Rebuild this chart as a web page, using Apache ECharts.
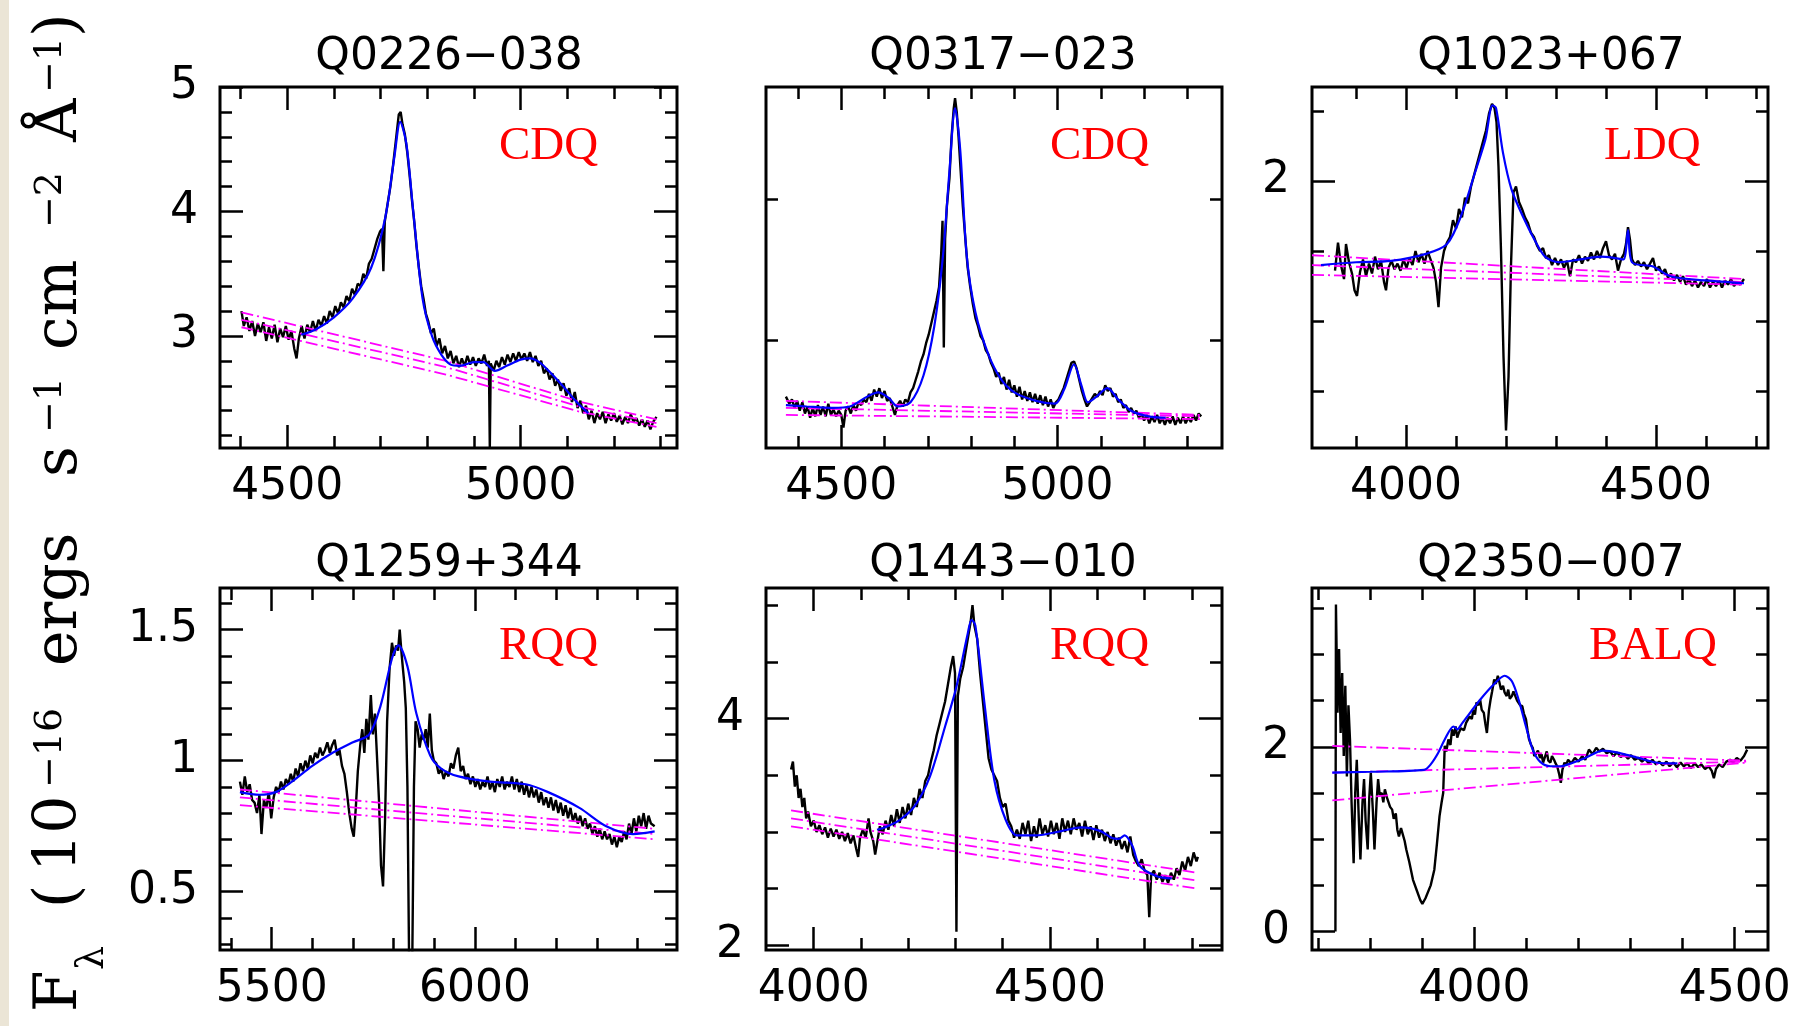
<!DOCTYPE html>
<html>
<head>
<meta charset="utf-8">
<script src="https://cdn.jsdelivr.net/npm/echarts@6/dist/echarts.min.js"></script>
<style>
html,body{margin:0;padding:0;background:#fff;}
#c{width:1803px;height:1026px;}
</style>
</head>
<body>
<div id="c"></div>
<script>
// ---------------- DATA ----------------
const TITLES = ['Q0226\u2212038','Q0317\u2212023','Q1023+067','Q1259+344','Q1443\u2212010','Q2350\u2212007'];
const CLASSES = ['CDQ','CDQ','LDQ','RQQ','RQQ','BALQ'];

const X_MIN = [4356, 4326, 3812, 5373, 3899, 3688];
const X_MAX = [5335, 5380, 4724, 6497, 4864, 4564];
const Y_MIN = [2.1, 0.235, 0.095, 0.2775, 1.96, -0.2];
const Y_MAX = [5.0, 2.8, 2.67, 1.659, 5.15, 3.72];

const X_MAJOR = [[4500,5000],[4500,5000],[4000,4500],[5500,6000],[4000,4500],[4000,4500]];
const X_MINOR = [
  [4400,4600,4700,4800,4900,5100,5200,5300],
  [4400,4600,4700,4800,4900,5100,5200,5300],
  [3900,4100,4200,4300,4400,4600,4700],
  [5400,5600,5700,5800,5900,6100,6200,6300,6400],
  [4100,4200,4300,4400,4600,4700,4800],
  [3700,3800,3900,4100,4200,4300,4400]
];
const Y_MAJOR = [[3,4,5],[],[2],[0.5,1,1.5],[2,4],[0,2]];
const Y_MINOR = [
  [2.2,2.4,2.6,2.8,3.2,3.4,3.6,3.8,4.2,4.4,4.6,4.8],
  [1,2],
  [0.5,1,1.5,2.5],
  [0.3,0.4,0.6,0.7,0.8,0.9,1.1,1.2,1.3,1.4,1.6],
  [2.5,3,3.5,4.5,5],
  [0.5,1,1.5,2.5,3,3.5]
];
const Y_LABELS = [[3,4,5],[],[2],[0.5,1,1.5],[2,4],[0,2]];

// Q0226-038
const q0226_spec = [[4402,3.20],[4407,3.08],[4413,3.15],[4419,3.04],[4425,3.12],[4431,3.00],[4437,3.10],[4443,3.03],[4449,3.11],[4455,2.96],[4461,3.07],[4467,2.98],[4473,3.09],[4479,2.95],[4485,3.06],[4491,2.99],[4497,3.08],[4503,2.97],[4509,3.04],[4515,2.90],[4520,2.82],[4525,2.98],[4531,3.08],[4537,2.98],[4543,3.09],[4549,3.03],[4555,3.12],[4561,3.04],[4567,3.13],[4573,3.08],[4579,3.16],[4585,3.10],[4591,3.20],[4597,3.15],[4603,3.24],[4609,3.18],[4615,3.27],[4621,3.23],[4627,3.32],[4633,3.28],[4639,3.38],[4645,3.33],[4651,3.42],[4657,3.40],[4663,3.50],[4669,3.46],[4675,3.58],[4681,3.62],[4687,3.70],[4693,3.78],[4699,3.84],[4703,3.86],[4706,3.52],[4709,3.92],[4715,4.06],[4721,4.20],[4727,4.38],[4733,4.58],[4739,4.78],[4743,4.80],[4747,4.70],[4752,4.62],[4757,4.48],[4762,4.30],[4767,4.10],[4772,3.92],[4777,3.72],[4782,3.55],[4787,3.40],[4792,3.30],[4797,3.18],[4802,3.12],[4808,3.02],[4814,3.06],[4820,2.92],[4826,2.98],[4832,2.86],[4838,2.92],[4844,2.82],[4850,2.88],[4856,2.78],[4862,2.84],[4868,2.75],[4874,2.82],[4880,2.76],[4886,2.84],[4892,2.77],[4898,2.83],[4904,2.76],[4910,2.82],[4916,2.78],[4922,2.85],[4928,2.76],[4932,2.80],[4934,2.10],[4936,2.78],[4942,2.72],[4948,2.80],[4954,2.75],[4960,2.83],[4966,2.77],[4972,2.85],[4978,2.79],[4984,2.86],[4990,2.80],[4996,2.87],[5002,2.81],[5008,2.86],[5014,2.80],[5020,2.87],[5026,2.79],[5032,2.84],[5038,2.76],[5044,2.80],[5050,2.70],[5056,2.74],[5062,2.65],[5068,2.70],[5074,2.60],[5080,2.65],[5086,2.56],[5092,2.62],[5098,2.52],[5104,2.58],[5110,2.47],[5116,2.55],[5122,2.42],[5128,2.48],[5134,2.38],[5140,2.44],[5146,2.33],[5152,2.40],[5158,2.30],[5164,2.38],[5170,2.33],[5176,2.39],[5182,2.30],[5188,2.37],[5194,2.32],[5200,2.38],[5206,2.31],[5212,2.36],[5218,2.29],[5224,2.35],[5230,2.30],[5236,2.37],[5242,2.31],[5248,2.34],[5254,2.28],[5260,2.33],[5266,2.27],[5272,2.32],[5278,2.25],[5284,2.31],[5291,2.35]];
const q0226_fit = [[4530,3.01],[4560,3.05],[4600,3.15],[4640,3.30],[4680,3.55],[4710,3.95],[4730,4.45],[4742,4.72],[4755,4.55],[4770,4.00],[4790,3.30],[4810,3.00],[4830,2.85],[4850,2.77],[4870,2.76],[4900,2.79],[4920,2.79],[4945,2.72],[4970,2.76],[5000,2.81],[5020,2.82],[5040,2.79],[5060,2.72],[5090,2.60],[5120,2.47],[5145,2.38]];
const q0226_c1 = [[4402,3.19],[4840,2.80],[5128,2.47],[5291,2.33]];
const q0226_c2 = [[4402,3.13],[4840,2.75],[5128,2.43],[5291,2.30]];
const q0226_c3 = [[4402,3.07],[4840,2.69],[5128,2.39],[5291,2.27]];

// Q0317-023
const q0317_spec = [[4372,0.60],[4380,0.55],[4386,0.58],[4392,0.52],[4398,0.57],[4404,0.50],[4410,0.56],[4416,0.48],[4422,0.53],[4428,0.45],[4434,0.52],[4440,0.46],[4446,0.54],[4452,0.47],[4458,0.53],[4464,0.46],[4470,0.55],[4476,0.47],[4482,0.51],[4488,0.46],[4494,0.50],[4500,0.47],[4505,0.38],[4510,0.50],[4516,0.53],[4522,0.48],[4528,0.54],[4534,0.50],[4540,0.56],[4546,0.54],[4552,0.58],[4558,0.56],[4564,0.62],[4570,0.57],[4576,0.65],[4582,0.60],[4588,0.66],[4594,0.59],[4600,0.64],[4606,0.57],[4612,0.59],[4618,0.53],[4624,0.47],[4630,0.54],[4636,0.57],[4642,0.53],[4648,0.58],[4654,0.56],[4660,0.63],[4666,0.66],[4672,0.72],[4678,0.78],[4684,0.85],[4690,0.90],[4696,0.98],[4702,1.04],[4708,1.12],[4714,1.20],[4720,1.28],[4726,1.38],[4731,1.62],[4734,1.85],[4737,0.95],[4740,1.72],[4744,1.95],[4750,2.15],[4755,2.45],[4760,2.65],[4763,2.72],[4767,2.62],[4771,2.45],[4776,2.20],[4781,1.95],[4786,1.75],[4792,1.52],[4798,1.38],[4804,1.26],[4810,1.16],[4816,1.10],[4822,1.03],[4828,1.00],[4834,0.93],[4840,0.90],[4846,0.84],[4852,0.80],[4858,0.74],[4864,0.77],[4870,0.69],[4876,0.74],[4882,0.65],[4888,0.72],[4894,0.63],[4900,0.68],[4906,0.60],[4912,0.67],[4918,0.58],[4924,0.64],[4930,0.57],[4936,0.63],[4942,0.56],[4948,0.62],[4954,0.55],[4960,0.61],[4966,0.54],[4972,0.60],[4978,0.53],[4984,0.58],[4990,0.52],[4996,0.56],[5002,0.58],[5008,0.62],[5014,0.66],[5020,0.72],[5026,0.78],[5032,0.84],[5038,0.85],[5044,0.80],[5050,0.72],[5056,0.64],[5062,0.58],[5068,0.53],[5074,0.56],[5080,0.59],[5086,0.62],[5092,0.60],[5098,0.64],[5104,0.61],[5110,0.68],[5116,0.64],[5122,0.66],[5128,0.60],[5134,0.62],[5140,0.56],[5146,0.58],[5152,0.52],[5158,0.54],[5164,0.49],[5170,0.52],[5176,0.48],[5182,0.50],[5188,0.45],[5194,0.48],[5200,0.43],[5206,0.47],[5212,0.41],[5218,0.46],[5224,0.42],[5230,0.47],[5236,0.41],[5242,0.45],[5248,0.40],[5254,0.45],[5260,0.41],[5266,0.46],[5272,0.40],[5278,0.45],[5284,0.41],[5290,0.46],[5296,0.41],[5302,0.45],[5308,0.42],[5314,0.47],[5320,0.43],[5326,0.48],[5332,0.46]];
const q0317_fit = [[4372,0.54],[4420,0.53],[4480,0.52],[4520,0.53],[4560,0.60],[4585,0.63],[4610,0.59],[4630,0.53],[4660,0.56],[4690,0.75],[4715,1.10],[4735,1.60],[4750,2.20],[4763,2.65],[4775,2.35],[4790,1.60],[4810,1.20],[4840,0.90],[4870,0.72],[4900,0.63],[4950,0.57],[4994,0.55],[5015,0.65],[5038,0.83],[5055,0.68],[5070,0.56],[5090,0.60],[5115,0.66],[5140,0.58],[5170,0.50],[5210,0.46],[5250,0.45]];
const q0317_c1 = [[4372,0.57],[5332,0.47]];
const q0317_c2 = [[4372,0.52],[5332,0.46]];
const q0317_c3 = [[4372,0.47],[5332,0.44]];

// Q1023+067
const q1023_spec = [[3858,1.36],[3864,1.56],[3870,1.40],[3876,1.30],[3880,1.55],[3886,1.42],[3892,1.34],[3897,1.22],[3902,1.18],[3908,1.35],[3914,1.44],[3920,1.32],[3926,1.41],[3932,1.34],[3938,1.46],[3944,1.37],[3950,1.43],[3956,1.28],[3960,1.22],[3965,1.38],[3971,1.43],[3977,1.37],[3983,1.41],[3989,1.36],[3995,1.44],[4001,1.38],[4007,1.45],[4013,1.40],[4019,1.50],[4025,1.42],[4031,1.48],[4037,1.41],[4043,1.50],[4049,1.44],[4055,1.38],[4060,1.28],[4065,1.10],[4070,1.38],[4076,1.50],[4082,1.56],[4088,1.60],[4094,1.72],[4100,1.66],[4106,1.80],[4112,1.74],[4118,1.88],[4124,1.84],[4130,1.96],[4136,2.04],[4142,2.12],[4148,2.20],[4154,2.28],[4160,2.36],[4166,2.48],[4172,2.55],[4177,2.52],[4181,2.42],[4185,2.10],[4190,1.50],[4195,0.75],[4200,0.22],[4205,0.60],[4210,1.40],[4215,1.92],[4220,1.96],[4226,1.85],[4232,1.80],[4238,1.74],[4244,1.70],[4250,1.63],[4256,1.60],[4262,1.54],[4268,1.50],[4274,1.52],[4280,1.45],[4286,1.47],[4292,1.40],[4298,1.45],[4304,1.40],[4310,1.44],[4316,1.38],[4322,1.43],[4328,1.32],[4334,1.44],[4340,1.42],[4346,1.47],[4352,1.41],[4358,1.46],[4364,1.43],[4370,1.49],[4376,1.44],[4382,1.50],[4388,1.45],[4394,1.52],[4400,1.57],[4406,1.47],[4412,1.44],[4418,1.48],[4424,1.36],[4430,1.44],[4436,1.48],[4440,1.55],[4444,1.67],[4448,1.58],[4452,1.44],[4458,1.40],[4464,1.43],[4470,1.39],[4476,1.42],[4482,1.37],[4488,1.41],[4494,1.45],[4500,1.36],[4506,1.39],[4512,1.34],[4518,1.37],[4524,1.31],[4530,1.34],[4536,1.29],[4542,1.33],[4548,1.28],[4554,1.32],[4560,1.26],[4566,1.30],[4572,1.25],[4578,1.29],[4584,1.24],[4590,1.28],[4596,1.25],[4602,1.30],[4608,1.24],[4614,1.28],[4620,1.25],[4626,1.29],[4632,1.24],[4638,1.29],[4644,1.26],[4650,1.30],[4656,1.25],[4662,1.28],[4668,1.26],[4676,1.30]];
const q1023_fit = [[3830,1.40],[3900,1.42],[3970,1.43],[4040,1.48],[4082,1.55],[4110,1.75],[4138,2.06],[4159,2.30],[4173,2.54],[4180,2.52],[4194,2.20],[4211,1.94],[4236,1.73],[4257,1.58],[4278,1.46],[4306,1.42],[4348,1.44],[4390,1.46],[4418,1.45],[4435,1.44],[4444,1.65],[4452,1.42],[4494,1.39],[4529,1.32],[4599,1.29],[4676,1.27]];
const q1023_c1 = [[3812,1.47],[4676,1.30]];
const q1023_c2 = [[3812,1.40],[4676,1.28]];
const q1023_c3 = [[3812,1.33],[4676,1.26]];

// Q1259+344
const q1259_spec = [[5422,0.92],[5428,0.87],[5434,0.94],[5440,0.88],[5446,0.91],[5452,0.85],[5458,0.84],[5464,0.80],[5470,0.87],[5475,0.72],[5481,0.85],[5487,0.82],[5493,0.88],[5499,0.78],[5505,0.86],[5511,0.90],[5517,0.88],[5523,0.92],[5529,0.89],[5535,0.93],[5541,0.91],[5547,0.95],[5553,0.92],[5559,0.97],[5565,0.94],[5571,0.99],[5577,0.96],[5583,1.00],[5589,0.97],[5595,1.02],[5601,0.99],[5607,1.03],[5613,1.01],[5619,1.05],[5625,1.02],[5631,1.04],[5637,1.07],[5643,1.03],[5649,1.06],[5655,1.08],[5661,1.02],[5667,1.04],[5673,0.98],[5679,0.95],[5685,0.88],[5691,0.80],[5697,0.74],[5702,0.71],[5707,0.82],[5712,0.96],[5718,1.06],[5723,1.12],[5728,1.03],[5733,1.16],[5738,1.08],[5744,1.25],[5749,1.10],[5754,1.18],[5759,1.02],[5764,0.85],[5769,0.60],[5774,0.52],[5779,0.78],[5784,1.15],[5790,1.35],[5796,1.45],[5801,1.40],[5806,1.44],[5811,1.42],[5815,1.50],[5820,1.40],[5826,1.30],[5830,1.20],[5834,0.90],[5838,0.25],[5842,0.10],[5846,0.25],[5850,0.90],[5854,1.15],[5859,1.12],[5864,1.05],[5869,1.10],[5874,1.08],[5879,1.12],[5884,1.05],[5889,1.18],[5894,1.04],[5899,1.00],[5905,0.99],[5911,0.95],[5917,0.97],[5923,0.93],[5929,0.96],[5935,0.94],[5941,0.99],[5947,0.97],[5953,1.02],[5959,1.05],[5965,0.96],[5971,0.98],[5977,0.93],[5983,0.95],[5989,0.91],[5995,0.94],[6001,0.90],[6007,0.93],[6013,0.89],[6019,0.92],[6025,0.90],[6031,0.94],[6037,0.89],[6043,0.92],[6049,0.88],[6055,0.93],[6061,0.90],[6067,0.94],[6073,0.89],[6079,0.92],[6085,0.90],[6091,0.94],[6097,0.89],[6103,0.93],[6109,0.88],[6115,0.92],[6121,0.87],[6127,0.91],[6133,0.86],[6139,0.90],[6145,0.86],[6151,0.89],[6157,0.84],[6163,0.88],[6169,0.83],[6175,0.86],[6181,0.82],[6187,0.86],[6193,0.81],[6199,0.85],[6205,0.80],[6211,0.84],[6217,0.79],[6223,0.83],[6229,0.78],[6235,0.82],[6241,0.77],[6247,0.80],[6253,0.76],[6259,0.79],[6265,0.75],[6271,0.78],[6277,0.74],[6283,0.76],[6289,0.72],[6295,0.75],[6301,0.71],[6307,0.74],[6313,0.70],[6319,0.73],[6325,0.70],[6331,0.72],[6337,0.68],[6343,0.71],[6349,0.67],[6355,0.71],[6361,0.69],[6367,0.73],[6373,0.70],[6379,0.76],[6385,0.72],[6391,0.78],[6397,0.73],[6403,0.79],[6409,0.75],[6415,0.80],[6421,0.74],[6427,0.79],[6433,0.76],[6442,0.75]];
const q1259_fit = [[5422,0.88],[5470,0.87],[5510,0.88],[5550,0.92],[5600,0.98],[5650,1.03],[5700,1.07],[5740,1.10],[5768,1.21],[5796,1.39],[5812,1.44],[5834,1.36],[5856,1.18],[5890,1.02],[5917,0.97],[5960,0.94],[6037,0.92],[6125,0.91],[6180,0.88],[6257,0.82],[6323,0.75],[6389,0.72],[6442,0.73]];
const q1259_c1 = [[5422,0.89],[6442,0.74]];
const q1259_c2 = [[5422,0.86],[6442,0.72]];
const q1259_c3 = [[5422,0.83],[6442,0.70]];

// Q1443-010
const q1443_spec = [[3952,3.55],[3956,3.62],[3960,3.40],[3964,3.50],[3968,3.30],[3972,3.38],[3976,3.22],[3980,3.30],[3984,3.12],[3988,3.18],[3994,3.05],[4000,3.10],[4006,3.00],[4012,3.06],[4018,2.98],[4024,3.04],[4030,2.95],[4036,3.03],[4042,2.96],[4048,3.02],[4054,2.94],[4060,3.00],[4066,2.92],[4072,2.99],[4078,2.90],[4084,2.97],[4090,2.85],[4094,2.78],[4098,2.95],[4104,3.02],[4110,2.95],[4116,3.12],[4120,3.00],[4126,2.92],[4130,2.80],[4134,2.90],[4140,3.05],[4146,2.98],[4152,3.10],[4158,3.02],[4164,3.15],[4170,3.05],[4176,3.20],[4182,3.08],[4188,3.22],[4194,3.12],[4200,3.25],[4206,3.15],[4212,3.30],[4218,3.22],[4224,3.38],[4230,3.30],[4236,3.45],[4242,3.50],[4248,3.62],[4254,3.72],[4260,3.85],[4266,3.95],[4272,4.05],[4278,4.15],[4284,4.30],[4290,4.45],[4295,4.55],[4299,4.40],[4302,2.12],[4305,4.20],[4310,4.35],[4316,4.45],[4322,4.60],[4328,4.75],[4332,4.85],[4336,5.00],[4340,4.82],[4346,4.70],[4352,4.40],[4358,4.15],[4364,3.90],[4370,3.65],[4376,3.55],[4382,3.50],[4388,3.45],[4394,3.30],[4400,3.22],[4406,3.25],[4412,3.10],[4418,3.05],[4424,2.95],[4430,3.02],[4436,2.94],[4442,3.08],[4448,2.98],[4454,3.10],[4460,2.92],[4466,3.05],[4472,2.95],[4478,3.12],[4484,2.98],[4490,3.06],[4496,2.96],[4502,3.10],[4508,2.98],[4514,3.08],[4520,2.94],[4526,3.12],[4532,3.00],[4538,3.10],[4544,2.98],[4550,3.12],[4556,3.02],[4562,3.08],[4568,2.96],[4574,3.10],[4580,2.98],[4586,3.05],[4592,2.93],[4598,3.06],[4604,2.95],[4610,3.02],[4616,2.92],[4622,3.00],[4628,2.90],[4634,2.98],[4640,2.88],[4646,2.95],[4652,2.85],[4658,2.92],[4664,2.82],[4670,2.96],[4676,2.80],[4682,2.74],[4688,2.70],[4694,2.76],[4700,2.66],[4706,2.62],[4710,2.25],[4714,2.62],[4720,2.66],[4726,2.58],[4732,2.64],[4738,2.56],[4744,2.62],[4750,2.55],[4756,2.64],[4762,2.58],[4768,2.68],[4774,2.62],[4780,2.74],[4786,2.66],[4792,2.78],[4798,2.70],[4804,2.82],[4810,2.74],[4813,2.78]];
const q1443_fit = [[4134,3.02],[4150,3.04],[4180,3.10],[4214,3.23],[4246,3.49],[4278,3.93],[4302,4.28],[4326,4.75],[4334,4.87],[4342,4.82],[4362,4.11],[4382,3.46],[4406,3.11],[4430,2.97],[4470,2.97],[4526,3.01],[4566,3.04],[4606,3.01],[4630,2.95],[4646,2.94],[4658,2.97],[4674,2.88],[4690,2.70],[4726,2.61],[4758,2.59]];
const q1443_c1 = [[3952,3.19],[4813,2.64]];
const q1443_c2 = [[3952,3.12],[4813,2.57]];
const q1443_c3 = [[3952,3.05],[4813,2.50]];

// Q2350-007
const q2350_spec = [[3733,0],[3734,3.54],[3737,2.37],[3740,3.06],[3743,2.15],[3746,2.80],[3749,1.90],[3752,2.66],[3755,1.68],[3758,2.45],[3761,2.08],[3764,1.40],[3768,0.74],[3771,1.50],[3774,1.86],[3778,1.20],[3781,0.78],[3785,1.40],[3788,1.65],[3791,1.20],[3795,0.89],[3798,1.45],[3801,1.72],[3805,1.30],[3808,0.89],[3812,1.40],[3815,1.65],[3818,1.48],[3822,1.50],[3825,1.40],[3828,1.54],[3832,1.45],[3835,1.43],[3838,1.35],[3842,1.32],[3845,1.22],[3849,1.28],[3852,1.10],[3855,1.03],[3859,1.12],[3862,1.14],[3866,0.98],[3869,0.89],[3875,0.75],[3882,0.56],[3889,0.45],[3896,0.34],[3900,0.30],[3903,0.31],[3906,0.36],[3909,0.38],[3916,0.50],[3923,0.67],[3928,0.95],[3933,1.25],[3937,1.40],[3940,1.50],[3943,2.01],[3946,1.95],[3950,2.08],[3954,2.02],[3957,2.19],[3960,2.12],[3964,2.22],[3967,2.10],[3970,2.15],[3974,2.20],[3977,2.22],[3980,2.18],[3984,2.26],[3988,2.30],[3991,2.33],[3995,2.30],[3998,2.40],[4001,2.35],[4004,2.48],[4008,2.45],[4011,2.51],[4014,2.40],[4018,2.37],[4021,2.25],[4024,2.15],[4028,2.40],[4031,2.51],[4034,2.60],[4038,2.73],[4041,2.68],[4045,2.77],[4048,2.70],[4051,2.62],[4055,2.66],[4058,2.59],[4062,2.55],[4065,2.62],[4068,2.52],[4072,2.55],[4075,2.60],[4078,2.59],[4082,2.50],[4085,2.51],[4088,2.45],[4092,2.44],[4095,2.36],[4099,2.30],[4102,2.18],[4105,2.08],[4109,2.02],[4112,1.99],[4115,1.90],[4119,1.93],[4122,1.96],[4126,1.88],[4129,1.92],[4132,1.83],[4136,1.90],[4139,1.95],[4142,1.85],[4146,1.83],[4149,1.90],[4153,1.86],[4156,1.82],[4159,1.79],[4163,1.70],[4166,1.61],[4169,1.75],[4173,1.83],[4176,1.80],[4180,1.86],[4186,1.82],[4193,1.88],[4200,1.84],[4207,1.90],[4213,1.86],[4220,1.97],[4227,1.92],[4234,1.99],[4240,1.95],[4247,1.98],[4254,1.93],[4261,1.95],[4267,1.90],[4274,1.94],[4281,1.89],[4288,1.92],[4295,1.87],[4301,1.91],[4308,1.86],[4315,1.88],[4322,1.84],[4328,1.87],[4335,1.82],[4342,1.86],[4349,1.81],[4355,1.84],[4362,1.80],[4369,1.84],[4375,1.79],[4382,1.83],[4389,1.78],[4396,1.83],[4402,1.79],[4409,1.82],[4416,1.77],[4423,1.82],[4430,1.78],[4436,1.81],[4443,1.76],[4450,1.79],[4456,1.74],[4460,1.66],[4464,1.76],[4470,1.81],[4477,1.78],[4484,1.84],[4491,1.86],[4497,1.83],[4504,1.88],[4511,1.85],[4518,1.90],[4524,1.97]];
const q2350_fit = [[3727,1.72],[3800,1.73],[3903,1.75],[3916,1.81],[3930,1.93],[3943,2.08],[3960,2.22],[3967,2.19],[3977,2.26],[4011,2.51],[4038,2.68],[4058,2.77],[4072,2.71],[4085,2.51],[4099,2.22],[4112,1.97],[4126,1.84],[4146,1.79],[4166,1.79],[4180,1.81],[4213,1.88],[4247,1.96],[4281,1.93],[4315,1.88],[4349,1.83],[4390,1.82]];
const q2350_c1 = [[3727,2.01],[4524,1.85]];
const q2350_c2 = [[3727,1.72],[4524,1.84]];
const q2350_c3 = [[3727,1.42],[4524,1.83]];

const SPECTRA = [q0226_spec, q0317_spec, q1023_spec, q1259_spec, q1443_spec, q2350_spec];
const FITS = [q0226_fit, q0317_fit, q1023_fit, q1259_fit, q1443_fit, q2350_fit];
const CONTINUA = [
  [q0226_c1, q0226_c2, q0226_c3],
  [q0317_c1, q0317_c2, q0317_c3],
  [q1023_c1, q1023_c2, q1023_c3],
  [q1259_c1, q1259_c2, q1259_c3],
  [q1443_c1, q1443_c2, q1443_c3],
  [q2350_c1, q2350_c2, q2350_c3]
];

// ---------------- LAYOUT ----------------
const COL_LEFT = [220, 766, 1312];
const COL_WIDTH = [457, 456, 456];
const ROW_TOP = [87, 588];
const ROW_HEIGHT = [361, 362];
const TITLE_CX = [449, 1003, 1551];
const TITLE_CY = [58, 565];
const CLASS_X = [499, 1050, 1604, 499, 1050, 1589];
const CLASS_CY = [147, 647];

const MAJ_LEN = 23, MIN_LEN = 12;
const TICK_W = 2.5;
const LABEL_FONT = 'DejaVu Sans';

const chart = echarts.init(document.getElementById('c'), null, {renderer: 'canvas'});

const grids = [], xAxes = [], yAxes = [], series = [], graphics = [];

function plainNumber(v) { return String(v); }

function makeAxis(dim, i, pos, ticks, len, labels) {
  return {
    type: 'value', gridIndex: i, position: pos,
    min: dim === 'x' ? X_MIN[i] : Y_MIN[i],
    max: dim === 'x' ? X_MAX[i] : Y_MAX[i],
    axisLine: {show: false, onZero: false},
    splitLine: {show: false},
    axisTick: {show: ticks.length > 0, inside: true, length: len, customValues: ticks,
               lineStyle: {color: '#000', width: TICK_W}},
    axisLabel: {show: !!(labels && labels.length), customValues: labels || [],
                formatter: plainNumber,
                fontFamily: LABEL_FONT, fontSize: 44, color: '#000',
                margin: dim === 'x' ? 18 : 22}
  };
}

for (let i = 0; i < 6; i++) {
  const col = i % 3, row = Math.floor(i / 3);
  grids.push({left: COL_LEFT[col], top: ROW_TOP[row], width: COL_WIDTH[col], height: ROW_HEIGHT[row],
              show: true, borderColor: '#000', borderWidth: 3, backgroundColor: 'transparent',
              containLabel: false, outerBoundsMode: 'none'});
  xAxes.push(makeAxis('x', i, 'bottom', X_MAJOR[i], MAJ_LEN, X_MAJOR[i]));
  xAxes.push(makeAxis('x', i, 'bottom', X_MINOR[i], MIN_LEN, null));
  xAxes.push(makeAxis('x', i, 'top', X_MAJOR[i], MAJ_LEN, null));
  xAxes.push(makeAxis('x', i, 'top', X_MINOR[i], MIN_LEN, null));
  yAxes.push(makeAxis('y', i, 'left', Y_MAJOR[i], MAJ_LEN, Y_LABELS[i]));
  yAxes.push(makeAxis('y', i, 'left', Y_MINOR[i], MIN_LEN, null));
  yAxes.push(makeAxis('y', i, 'right', Y_MAJOR[i], MAJ_LEN, null));
  yAxes.push(makeAxis('y', i, 'right', Y_MINOR[i], MIN_LEN, null));

  const base = {type: 'line', xAxisIndex: 4 * i, yAxisIndex: 4 * i, showSymbol: false, symbol: 'none',
                silent: true, clip: true, animation: false};
  series.push(Object.assign({}, base, {data: SPECTRA[i], z: 2,
              lineStyle: {color: '#000', width: 2.4}}));
  CONTINUA[i].forEach(function (c) {
    series.push(Object.assign({}, base, {data: c, z: 3,
                lineStyle: {color: '#ff00ff', width: 1.8, type: [12, 4, 2, 4]}}));
  });
  series.push(Object.assign({}, base, {data: FITS[i], z: 4, smooth: 0.3,
              lineStyle: {color: '#0000ff', width: 2.2}}));

  graphics.push({type: 'text', x: TITLE_CX[col], y: TITLE_CY[row], z: 10,
                 style: {text: TITLES[i], font: '44px "DejaVu Sans"', fill: '#000',
                         align: 'center', verticalAlign: 'middle'}});
  graphics.push({type: 'text', x: CLASS_X[i], y: CLASS_CY[row], z: 10,
                 style: {text: CLASSES[i], font: '47px "Liberation Serif"', fill: '#ff0000',
                         align: 'left', verticalAlign: 'middle'}});
}

// left beige strip
graphics.push({type: 'rect', shape: {x: 0, y: 0, width: 9, height: 1026}, z: 0,
               style: {fill: '#ebe5d6'}});

// rotated y-axis title built from pieces
const YT_MAIN = '60px "DejaVu Serif"';
const YT_SMALL = '38px "DejaVu Serif"';
const ytPieces = [
  {t: 'F', lx: -2, ly: 0, f: YT_MAIN},
  {t: '\u03bb', lx: 40, ly: 33, f: YT_SMALL},
  {t: '(', lx: 102, ly: 0, f: YT_MAIN},
  {t: '10', lx: 138, ly: 0, f: YT_MAIN},
  {t: '\u221216', lx: 222, ly: -9, f: YT_SMALL},
  {t: 'ergs', lx: 344, ly: 0, f: YT_MAIN},
  {t: 's', lx: 533, ly: 0, f: YT_MAIN},
  {t: '\u22121', lx: 577, ly: -9, f: YT_SMALL},
  {t: 'cm', lx: 660, ly: 0, f: YT_MAIN},
  {t: '\u22122', lx: 782, ly: -9, f: YT_SMALL},
  {t: '\u00c5', lx: 868, ly: 0, f: YT_MAIN},
  {t: '\u22121', lx: 917, ly: -9, f: YT_SMALL},
  {t: ')', lx: 973, ly: 0, f: YT_MAIN}
];
graphics.push({
  type: 'group', x: 60, y: 1010, rotation: Math.PI / 2, z: 10,
  children: ytPieces.map(function (p) {
    return {type: 'text', x: p.lx, y: p.ly,
            style: {text: p.t, font: p.f, fill: '#000', align: 'left', verticalAlign: 'middle'}};
  })
});

chart.setOption({
  animation: false,
  backgroundColor: '#ffffff',
  grid: grids,
  xAxis: xAxes,
  yAxis: yAxes,
  series: series,
  graphic: graphics
});
</script>
</body>
</html>
